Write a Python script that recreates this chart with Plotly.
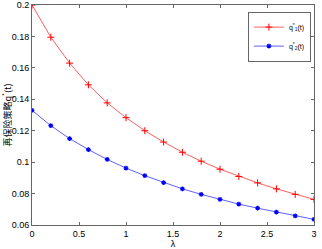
import plotly.graph_objects as go

lam = [0, 0.2, 0.4, 0.6, 0.8, 1.0, 1.2, 1.4, 1.6, 1.8, 2.0, 2.2, 2.4, 2.6, 2.8, 3.0]
q1 = [0.2, 0.1795, 0.1630, 0.1492, 0.1377, 0.1283, 0.1200, 0.1128, 0.1063, 0.1006, 0.0955, 0.0909, 0.0868, 0.0830, 0.0795, 0.0763]
q2 = [0.1330, 0.1232, 0.1150, 0.1080, 0.1017, 0.0962, 0.0914, 0.0870, 0.0830, 0.0795, 0.0763, 0.0733, 0.0707, 0.0682, 0.0658, 0.0636]

fig = go.Figure()
fig.add_trace(go.Scatter(x=lam, y=q1, mode="lines+markers", name="q<sup>*</sup><sub>1</sub>(t)",
                         line=dict(color="#ff6060", width=1),
                         marker=dict(symbol="cross-thin-open", size=5, color="#ff0000", line=dict(width=1, color="#ff0000"))))
fig.add_trace(go.Scatter(x=lam, y=q2, mode="lines+markers", name="q<sup>*</sup><sub>2</sub>(t)",
                         line=dict(color="#6060ff", width=1),
                         marker=dict(symbol="asterisk-open", size=4, color="#0000ff", line=dict(width=1.2, color="#0000ff"))))

axis_common = dict(showline=True, linecolor="#666666", linewidth=1, mirror="ticks", ticks="inside",
                   ticklen=3, tickcolor="#666666", showgrid=False, zeroline=False, automargin=False,
                   tickfont=dict(family="Liberation Sans, Arial", size=9, color="#000000"))

fig.update_layout(
    width=322, height=249,
    margin=dict(l=32, r=8, t=5, b=24),
    paper_bgcolor="white", plot_bgcolor="white",
    showlegend=True,
    legend=dict(x=0.989, y=0.97, xanchor="right", yanchor="top", bgcolor="white",
                bordercolor="#666666", borderwidth=1,
                font=dict(family="Liberation Sans, Arial", size=7, color="#000000"),
                tracegroupgap=0, itemwidth=30),
    xaxis=dict(range=[0, 3], tickvals=[0, 0.5, 1, 1.5, 2, 2.5, 3], ticktext=["0", "0.5", "1", "1.5", "2", "2.5", "3"],
               title=dict(text="λ", standoff=2, font=dict(family="Liberation Sans, Arial", size=9, color="#000000")),
               **axis_common),
    yaxis=dict(range=[0.06, 0.2], tickvals=[0.06, 0.08, 0.1, 0.12, 0.14, 0.16, 0.18, 0.2],
               ticktext=["0.06", "0.08", "0.1", "0.12", "0.14", "0.16", "0.18", "0.2"],
               title=dict(text="再保险策略q<sup>*</sup>(t)", standoff=3,
                          font=dict(family="Noto Sans CJK SC, Liberation Sans", size=9, color="#000000")),
               **axis_common),
)

fig.write_html("out.html", config={"displayModeBar": False},
               post_script="document.body.style.margin='0';document.body.style.overflow='hidden';")
